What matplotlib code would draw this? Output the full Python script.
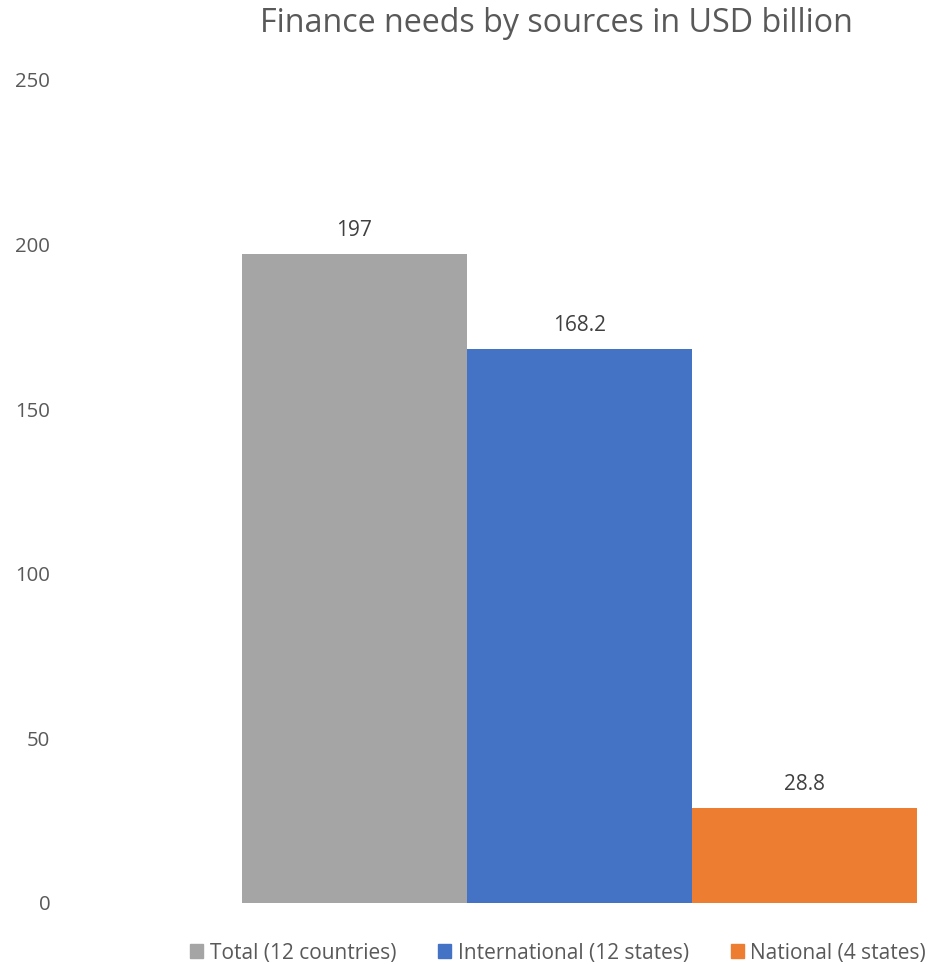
import matplotlib
matplotlib.use("Agg")
import matplotlib.pyplot as plt

series = ["Total (12 countries)", "International (12 states)", "National (4 states)"]
values = [197, 168.2, 28.8]
value_labels = ["197", "168.2", "28.8"]
colors = ["#A5A5A5", "#4472C4", "#ED7D31"]
yticks = [0, 50, 100, 150, 200, 250]

plt.rcParams["font.family"] = ["Open Sans", "DejaVu Sans"]
text_color = "#595959"

W, H = 934, 964
fig = plt.figure(figsize=(W / 100, H / 100), dpi=100)
# plot area: left 60, right 930, top 80 (250), bottom 903 (0)
ax = fig.add_axes([60 / W, 1 - 903 / H, 870 / W, 823 / H])

x = list(range(len(values)))
bars = ax.bar(x, values, width=1.0, color=colors, label=series)
ax.set_xlim(-1.309, 2.558)
ax.set_ylim(0, 250)
ax.set_yticks(yticks)
ax.set_yticklabels([str(t) for t in yticks])
ax.set_xticks([])
for s in ax.spines.values():
    s.set_visible(False)
ax.tick_params(axis="y", length=0, labelsize=14.7, labelcolor=text_color, pad=7)

for b, lbl in zip(bars, value_labels):
    ax.annotate(lbl, (b.get_x() + b.get_width() / 2, b.get_height()),
                xytext=(0, 13), textcoords="offset points",
                ha="center", va="baseline", fontsize=15, color="#404040")

fig.text(556 / W, 1 - 24 / H, "Finance needs by sources in USD billion",
         ha="center", va="center", fontsize=23.2, color=text_color)

handles = [plt.Rectangle((0, 0), 1, 1, color=c) for c in colors]
fig.legend(handles, series, loc="center", bbox_to_anchor=(558 / W, 1 - 953 / H),
           ncol=3, frameon=False, fontsize=15, handlelength=0.65, handleheight=0.65,
           handletextpad=0.3, columnspacing=2.0, labelcolor=text_color,
           borderpad=0, borderaxespad=0)

fig.savefig("out.png", dpi=100)
